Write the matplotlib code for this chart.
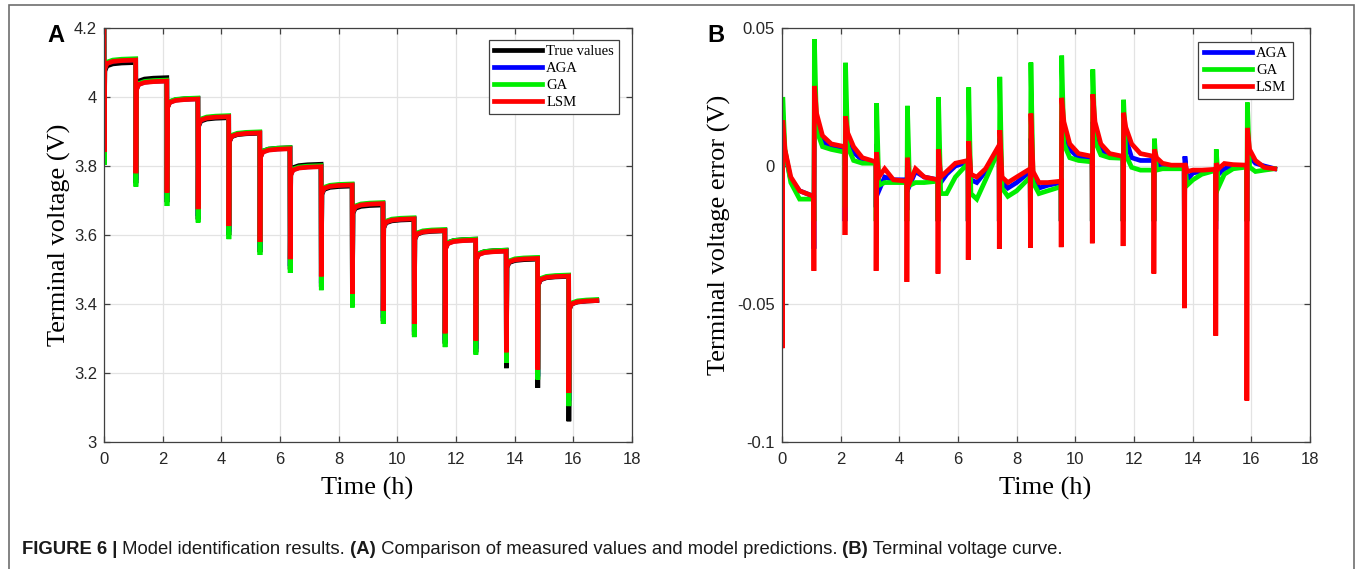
import matplotlib
matplotlib.use("Agg")
import matplotlib.pyplot as plt
from matplotlib.patches import Rectangle
from matplotlib.ticker import FormatStrFormatter, MultipleLocator

# pulse start times (h) and end of the test
pulse = [0.0, 1.08, 2.14, 3.2, 4.25, 5.31, 6.34, 7.4, 8.46, 9.51, 10.57, 11.62, 12.67, 13.71, 14.78, 15.84]
t_end = 16.8
# sampling offsets after each pulse (h); last sample of a segment sits at the next pulse
offs = [0.008, 0.025, 0.1, 0.3, 0.6]

# ---- panel A: terminal voltage (V)
v_start = 4.19
plat_true = [4.100, 4.056, 3.996, 3.940, 3.895, 3.853, 3.805, 3.742, 3.687, 3.645, 3.612, 3.588, 3.556, 3.530, 3.480, 3.410]
plat_aga = [4.108, 4.047, 3.995, 3.944, 3.897, 3.851, 3.799, 3.746, 3.692, 3.648, 3.614, 3.586, 3.554, 3.533, 3.482, 3.411]
plat_ga = [4.111, 4.049, 3.997, 3.946, 3.899, 3.853, 3.801, 3.748, 3.694, 3.650, 3.616, 3.588, 3.556, 3.535, 3.484, 3.413]
plat_lsm = [4.107, 4.046, 3.994, 3.943, 3.896, 3.850, 3.798, 3.745, 3.691, 3.647, 3.613, 3.585, 3.553, 3.532, 3.481, 3.410]
min_true = [3.81, 3.75, 3.695, 3.645, 3.60, 3.55, 3.50, 3.45, 3.40, 3.35, 3.31, 3.285, 3.26, 3.214, 3.157, 3.060]
min_aga = [3.82, 3.76, 3.705, 3.655, 3.61, 3.56, 3.51, 3.46, 3.41, 3.36, 3.32, 3.295, 3.27, 3.24, 3.19, 3.12]
min_ga = [3.803, 3.740, 3.684, 3.636, 3.588, 3.542, 3.490, 3.440, 3.390, 3.342, 3.304, 3.275, 3.253, 3.229, 3.181, 3.104]
min_lsm = [3.841, 3.779, 3.723, 3.675, 3.626, 3.580, 3.530, 3.480, 3.430, 3.380, 3.342, 3.315, 3.294, 3.260, 3.210, 3.142]
# how far below the plateau the curve sits while relaxing (V)
rec_a = [0.025, 0.010, 0.004, 0.0015]

# ---- panel B: terminal voltage error (V), per pulse: [min, peak, +0.1h, +0.3h, +0.6h, end]
err_aga = [[-0.050, 0.012, 0.005, -0.005, -0.009, -0.011],
           [-0.030, 0.022, 0.015, 0.009, 0.007, 0.006],
           [-0.020, 0.014, 0.010, 0.005, 0.002, 0.001],
           [-0.015, 0.008, -0.009, -0.004, -0.005, -0.005],
           [-0.016, 0.004, -0.007, -0.002, -0.004, -0.005],
           [-0.020, 0.007, -0.006, -0.003, 0.000, 0.0015],
           [-0.020, 0.0085, -0.005, -0.006, -0.002, 0.007],
           [-0.020, 0.010, -0.006, -0.008, -0.006, -0.002],
           [-0.020, 0.010, -0.004, -0.008, -0.007, -0.006],
           [-0.020, 0.014, 0.013, 0.006, 0.003, 0.003],
           [-0.020, 0.016, 0.013, 0.006, 0.004, 0.003],
           [-0.020, 0.010, 0.010, 0.003, 0.002, 0.002],
           [-0.020, 0.005, 0.001, -0.0005, -0.0005, -0.0005],
           [-0.025, 0.0035, -0.005, -0.0025, -0.002, -0.0015],
           [-0.023, 0.001, -0.003, -0.001, 0.000, 0.000],
           [-0.020, 0.0035, 0.0035, 0.001, 0.000, -0.001]]
err_ga = [[-0.040, 0.025, 0.006, -0.006, -0.012, -0.012],
          [-0.020, 0.046, 0.013, 0.007, 0.006, 0.005],
          [-0.015, 0.0374, 0.007, 0.002, 0.001, 0.001],
          [-0.020, 0.0227, -0.007, -0.006, -0.006, -0.006],
          [-0.020, 0.0218, -0.007, -0.006, -0.006, -0.0055],
          [-0.020, 0.025, -0.010, -0.010, -0.004, 0.001],
          [-0.020, 0.0285, -0.010, -0.012, -0.005, 0.006],
          [-0.020, 0.0323, -0.008, -0.011, -0.009, -0.004],
          [-0.020, 0.0375, -0.006, -0.010, -0.009, -0.0075],
          [-0.020, 0.040, 0.008, 0.003, 0.002, 0.0015],
          [-0.020, 0.035, 0.009, 0.004, 0.003, 0.0028],
          [-0.020, 0.024, 0.004, -0.0005, -0.0015, -0.0015],
          [-0.020, 0.0099, -0.0015, -0.001, -0.001, -0.001],
          [-0.020, 0.000, -0.007, -0.005, -0.003, -0.0016],
          [-0.020, 0.006, -0.0077, -0.003, -0.001, -0.0004],
          [-0.020, 0.023, -0.0004, -0.002, -0.0015, -0.001]]
err_lsm = [[-0.066, 0.0166, 0.006, -0.004, -0.009, -0.011],
           [-0.038, 0.029, 0.019, 0.011, 0.008, 0.007],
           [-0.025, 0.018, 0.012, 0.007, 0.003, 0.0015],
           [-0.038, 0.005, -0.004, -0.001, -0.005, -0.0055],
           [-0.042, 0.003, -0.006, -0.001, -0.004, -0.005],
           [-0.039, 0.006, -0.004, -0.002, 0.001, 0.002],
           [-0.034, 0.009, -0.003, -0.004, -0.001, 0.0075],
           [-0.030, 0.013, -0.004, -0.006, -0.004, -0.001],
           [-0.0296, 0.019, -0.002, -0.006, -0.006, -0.0055],
           [-0.0294, 0.0247, 0.016, 0.008, 0.0045, 0.0035],
           [-0.028, 0.026, 0.016, 0.008, 0.0045, 0.0035],
           [-0.029, 0.0193, 0.014, 0.008, 0.0045, 0.0035],
           [-0.039, 0.006, 0.003, 0.001, 0.0003, 0.0003],
           [-0.0515, 0.001, -0.002, -0.0015, -0.0015, -0.0012],
           [-0.0615, 0.001, -0.001, 0.0009, 0.0005, 0.0003],
           [-0.085, 0.0138, 0.006, 0.002, -0.0005, -0.001]]

col = {"true": "#000000", "aga": "#0000ff", "ga": "#00ee00", "lsm": "#ff0000"}


def trace(start, segs):
    t, v = [0.0], [start]
    for p, nxt, seg in zip(pulse, pulse[1:] + [t_end], segs):
        t += [p + o for o in offs] + [nxt]
        v += list(seg)
    return t, v


def volt_segs(plat, mins):
    return [[m] + [p - r for r in rec_a] + [p] for p, m in zip(plat, mins)]


sans = "Liberation Sans"
serif = "Liberation Serif"
plt.rcParams["font.family"] = sans

fig = plt.figure(figsize=(13.57, 5.69), dpi=100)
W, H = 1357, 569
ax_a = fig.add_axes([104 / W, 1 - 442 / H, 528 / W, 414 / H])
ax_b = fig.add_axes([782 / W, 1 - 442 / H, 528 / W, 414 / H])

lw = 3.4
for plat, mins, c, lab in [(plat_true, min_true, col["true"], "True values"),
                           (plat_aga, min_aga, col["aga"], "AGA"),
                           (plat_ga, min_ga, col["ga"], "GA"),
                           (plat_lsm, min_lsm, col["lsm"], "LSM")]:
    t, v = trace(v_start, volt_segs(plat, mins))
    ax_a.plot(t, v, color=c, lw=lw, label=lab, solid_joinstyle="miter")

for segs, c, lab in [(err_aga, col["aga"], "AGA"), (err_ga, col["ga"], "GA"), (err_lsm, col["lsm"], "LSM")]:
    t, v = trace(0.0, segs)
    ax_b.plot(t, v, color=c, lw=lw, label=lab, solid_joinstyle="miter")

ax_a.set_ylim(3, 4.2)
ax_a.yaxis.set_major_locator(MultipleLocator(0.2))
ax_b.set_ylim(-0.1, 0.05)
ax_b.yaxis.set_major_locator(MultipleLocator(0.05))

for ax in (ax_a, ax_b):
    ax.set_xlim(0, 18)
    ax.xaxis.set_major_locator(MultipleLocator(2))
    ax.yaxis.set_major_formatter(FormatStrFormatter("%g"))
    ax.grid(True, color="#e3e3e3", lw=0.9)
    ax.set_axisbelow(True)
    ax.tick_params(direction="in", top=True, right=True, length=4, width=0.9,
                   color="#404040", labelsize=12, labelcolor="#262626")
    ax.tick_params(axis="x", pad=7)
    ax.tick_params(axis="y", pad=5)
    for s in ax.spines.values():
        s.set_color("#404040")
        s.set_linewidth(0.9)
    ax.set_xlabel("Time (h)", family=serif, size=19, va="center")
    ax.xaxis.set_label_coords(0.498, -0.113)

ax_a.set_ylabel("Terminal voltage (V)", family=serif, size=19, va="center")
ax_a.yaxis.set_label_coords(-0.084, 0.5)
ax_b.set_ylabel("Terminal voltage error (V)", family=serif, size=19, va="center")
ax_b.yaxis.set_label_coords(-0.119, 0.5)

leg_kw = dict(loc="upper right", borderaxespad=0, fancybox=False, framealpha=1,
              edgecolor="#404040", prop={"family": serif, "size": 10.5},
              handlelength=3.3, handletextpad=0.3, labelspacing=0.25, borderpad=0.35)
lg = ax_a.legend(bbox_to_anchor=(619 / W, 1 - 40 / H), bbox_transform=fig.transFigure, **leg_kw)
lg.get_frame().set_linewidth(0.9)
lg = ax_b.legend(bbox_to_anchor=(1293 / W, 1 - 42 / H), bbox_transform=fig.transFigure, **leg_kw)
lg.get_frame().set_linewidth(0.9)

fig.text(47 / W, 1 - 42 / H, "A", weight="bold", size=17, va="baseline")
fig.text(707 / W, 1 - 42 / H, "B", weight="bold", size=17, va="baseline")

# outer frame of the figure panel
fig.add_artist(Rectangle((9 / W, -0.1), 1345 / W, 1.1 - 5 / H, transform=fig.transFigure,
                         fill=False, edgecolor="#6e6e6e", lw=1.2))

# caption, pieces chained left to right
parts = [("FIGURE 6 |", "bold"), (" Model identification results.", "normal"), (" (A)", "bold"),
         (" Comparison of measured values and model predictions.", "normal"), (" (B)", "bold"),
         (" Terminal voltage curve.", "normal")]
prev = fig.text(22 / W, 1 - 558 / H, parts[0][0], weight=parts[0][1], size=13.3,
                color="#1a1a1a", va="bottom")
for txt, wt in parts[1:]:
    prev = ax_a.annotate(txt, xy=(1, 0), xycoords=prev, va="bottom", ha="left",
                         weight=wt, size=13.3, color="#1a1a1a", annotation_clip=False)

fig.savefig("out.png", dpi=100)
